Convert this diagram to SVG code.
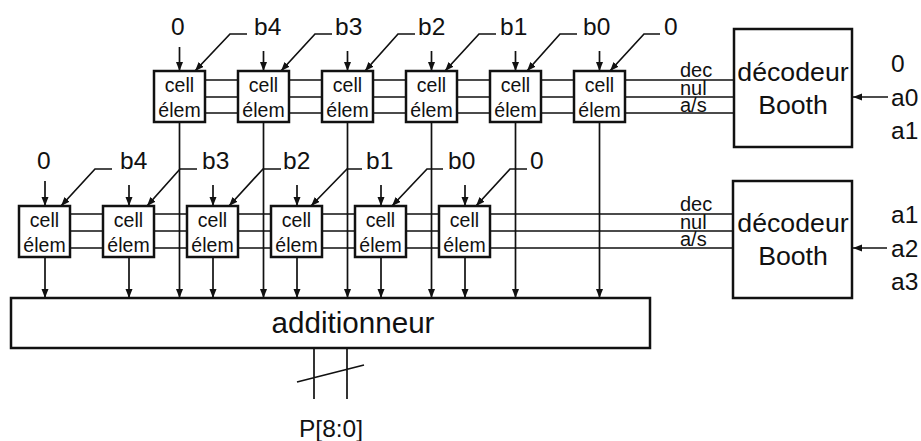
<svg xmlns="http://www.w3.org/2000/svg" width="921" height="441" viewBox="0 0 921 441">
<style>
text{font-family:"Liberation Sans",Arial,sans-serif;fill:#111}
.box{fill:#fff;stroke:#111;stroke-width:2.5}
.w{fill:none;stroke:#111;stroke-width:1.7}
#arrows path{fill:none;stroke:#111;stroke-width:1.7;marker-end:url(#ah)}
.l{font-size:24.500px}
.c{font-size:19.500px;text-anchor:middle}
.s{font-size:20px}
.d{font-size:26.700px;text-anchor:middle}
</style>
<defs>
<marker id="ah" markerUnits="userSpaceOnUse" markerWidth="10" markerHeight="8" refX="9" refY="3.500" orient="auto"><path d="M0 0L9 3.500L0 7Z" fill="#111"/></marker>
<g id="cellt"><rect class="box" width="51" height="51"/><text class="c" x="25.500" y="21">cell</text><text class="c" x="25.500" y="46">élem</text></g>
</defs>
<g id="connectors">
<path class="w" d="M205 80H574M205 97H574M205 113H574M625 80H734M625 97H734M625 113H734"/>
<path class="w" d="M71 214H439M71 231H439M71 248H439M490 214H733M490 231H733M490 248H733"/>
<path class="w" d="M314 348V399M347 348V399M297 382L364 365"/>
<g id="arrows">
<path d="M179.500 47V71"/><path d="M263.500 51V71"/><path d="M347.500 51V71"/><path d="M431.500 51V71"/><path d="M515.500 51V71"/><path d="M599.500 51V71"/>
<path d="M45 181V206"/><path d="M129 185V206"/><path d="M213 185V206"/><path d="M297 185V206"/><path d="M381 185V206"/><path d="M465 185V206"/>
<path d="M247 34H230L195 71"/><path d="M332 34H315L281 71"/><path d="M415 34H398L365 71"/><path d="M496 34H479L445 71"/><path d="M577 34H560L527 71"/><path d="M660 34H644L610 71"/>
<path d="M112 169H95L61 206"/><path d="M197 169H180L147 206"/><path d="M281 169H263L229 206"/><path d="M362 169H347L311 206"/><path d="M443 169H427L392 206"/><path d="M527 169H510L476 206"/>
<path d="M179.500 122V298"/><path d="M263.500 122V298"/><path d="M347.500 122V298"/><path d="M431.500 122V298"/><path d="M515.500 122V298"/><path d="M599.500 122V298"/>
<path d="M45 257V298"/><path d="M129 257V298"/><path d="M213 257V298"/><path d="M297 257V298"/><path d="M381 257V298"/><path d="M465 257V298"/>
<path d="M888 97H853"/><path d="M887 248H853"/>
</g>
</g>
<g id="cells-top">
<g id="c1"><use href="#cellt" x="154" y="71"/></g>
<g id="c2"><use href="#cellt" x="238" y="71"/></g>
<g id="c3"><use href="#cellt" x="322" y="71"/></g>
<g id="c4"><use href="#cellt" x="406" y="71"/></g>
<g id="c5"><use href="#cellt" x="490" y="71"/></g>
<g id="c6"><use href="#cellt" x="574" y="71"/></g>
</g>
<g id="cells-bottom">
<g id="d1"><use href="#cellt" x="19" y="206"/></g>
<g id="d2"><use href="#cellt" x="103" y="206"/></g>
<g id="d3"><use href="#cellt" x="187" y="206"/></g>
<g id="d4"><use href="#cellt" x="271" y="206"/></g>
<g id="d5"><use href="#cellt" x="355" y="206"/></g>
<g id="d6"><use href="#cellt" x="439" y="206"/></g>
</g>
<g id="adder"><rect class="box" x="11" y="298" width="639" height="50"/><text x="353" y="333" font-size="29.600" text-anchor="middle">additionneur</text></g>
<g id="dec1"><rect class="box" x="734" y="29" width="118" height="118"/><text class="d" x="793" y="81">décodeur</text><text class="d" x="793" y="114">Booth</text></g>
<g id="dec2"><rect class="box" x="733" y="181" width="119" height="117"/><text class="d" x="793" y="232">décodeur</text><text class="d" x="793" y="265">Booth</text></g>
<g id="labels">
<g class="l"><text x="171" y="35">0</text><text x="254" y="35">b4</text><text x="335" y="35">b3</text><text x="418" y="35">b2</text><text x="500" y="35">b1</text><text x="583" y="35">b0</text><text x="664" y="35">0</text>
<text x="37" y="169">0</text><text x="120" y="169">b4</text><text x="202" y="169">b3</text><text x="283" y="169">b2</text><text x="366" y="169">b1</text><text x="448" y="169">b0</text><text x="530" y="169">0</text>
<text x="891" y="72">0</text><text x="891" y="106">a0</text><text x="891" y="139">a1</text><text x="891" y="223">a1</text><text x="891" y="257">a2</text><text x="891" y="290">a3</text></g>
<g class="s"><text x="680" y="77">dec</text><text x="680" y="95">nul</text><text x="680" y="112">a/s</text><text x="680" y="211">dec</text><text x="680" y="229">nul</text><text x="680" y="246">a/s</text></g>
<text x="331" y="437" font-size="24.500" text-anchor="middle">P[8:0]</text>
</g>
</svg>
